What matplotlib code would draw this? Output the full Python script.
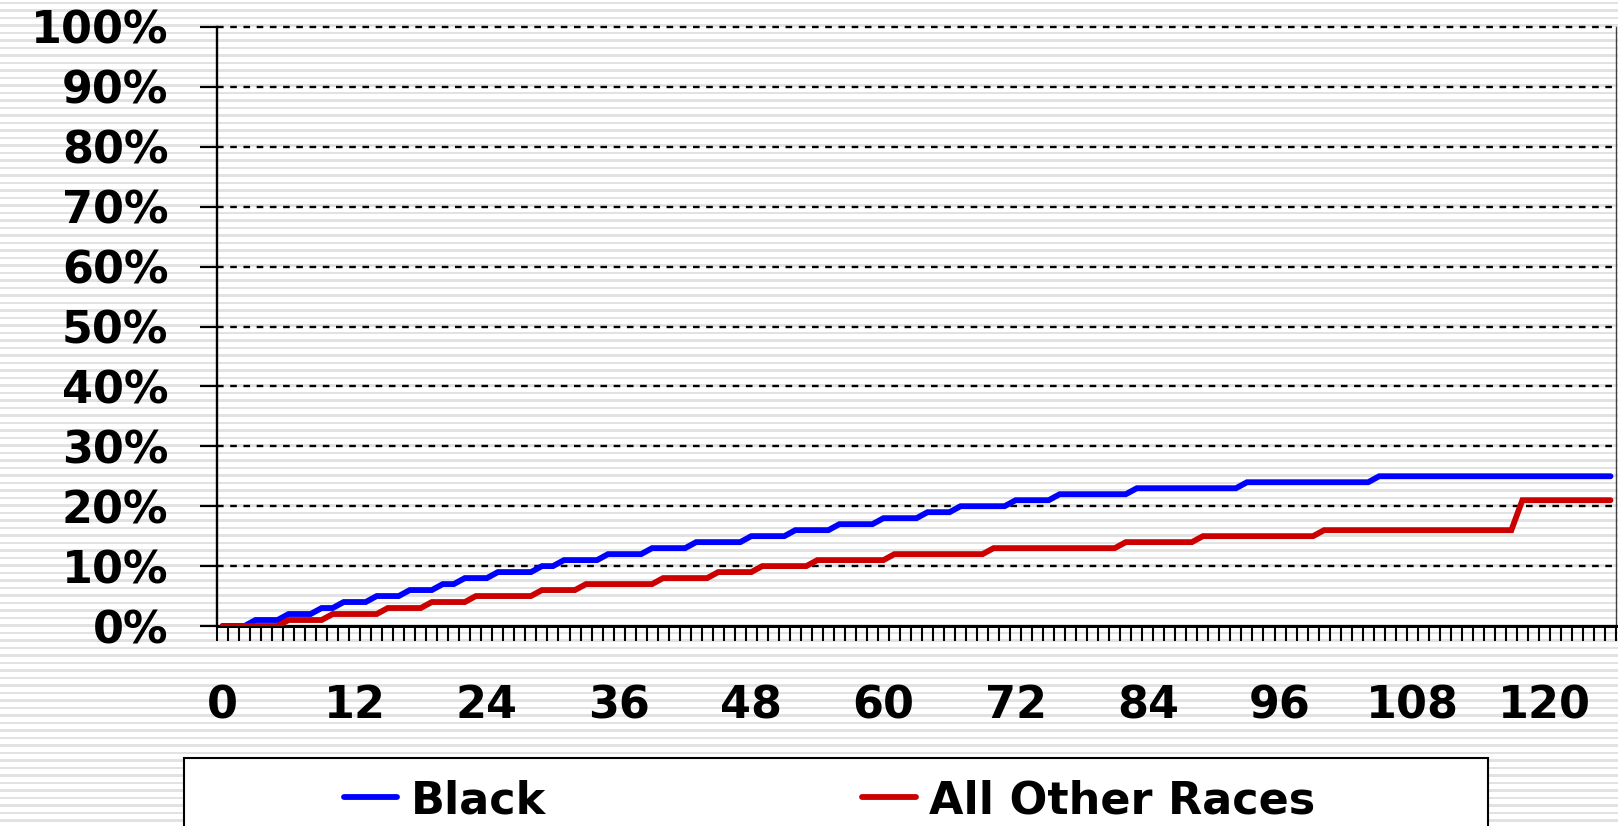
import numpy as np
import matplotlib
matplotlib.use("Agg")
import matplotlib.pyplot as plt
from matplotlib.patches import Rectangle
from matplotlib.lines import Line2D

# ---------------- data ----------------
months = list(range(127))  # months since start (category axis 0..126)

black_pct = [
    0, 0, 0, 1, 1, 1, 2, 2, 2, 3,
    3, 4, 4, 4, 5, 5, 5, 6, 6, 6,
    7, 7, 8, 8, 8, 9, 9, 9, 9, 10,
    10, 11, 11, 11, 11, 12, 12, 12, 12, 13,
    13, 13, 13, 14, 14, 14, 14, 14, 15, 15,
    15, 15, 16, 16, 16, 16, 17, 17, 17, 17,
    18, 18, 18, 18, 19, 19, 19, 20, 20, 20,
    20, 20, 21, 21, 21, 21, 22, 22, 22, 22,
    22, 22, 22, 23, 23, 23, 23, 23, 23, 23,
    23, 23, 23, 24, 24, 24, 24, 24, 24, 24,
    24, 24, 24, 24, 24, 25, 25, 25, 25, 25,
    25, 25, 25, 25, 25, 25, 25, 25, 25, 25,
    25, 25, 25, 25, 25, 25, 25,
]

other_pct = [
    0, 0, 0, 0, 0, 0, 1, 1, 1, 1,
    2, 2, 2, 2, 2, 3, 3, 3, 3, 4,
    4, 4, 4, 5, 5, 5, 5, 5, 5, 6,
    6, 6, 6, 7, 7, 7, 7, 7, 7, 7,
    8, 8, 8, 8, 8, 9, 9, 9, 9, 10,
    10, 10, 10, 10, 11, 11, 11, 11, 11, 11,
    11, 12, 12, 12, 12, 12, 12, 12, 12, 12,
    13, 13, 13, 13, 13, 13, 13, 13, 13, 13,
    13, 13, 14, 14, 14, 14, 14, 14, 14, 15,
    15, 15, 15, 15, 15, 15, 15, 15, 15, 15,
    16, 16, 16, 16, 16, 16, 16, 16, 16, 16,
    16, 16, 16, 16, 16, 16, 16, 16, 21, 21,
    21, 21, 21, 21, 21, 21, 21,
]

series_names = ["Black", "All Other Races"]
series_colors = ["#0000FF", "#CC0000"]

x_tick_values = [0, 12, 24, 36, 48, 60, 72, 84, 96, 108, 120]
x_tick_labels = ["0", "12", "24", "36", "48", "60", "72", "84", "96", "108", "120"]
y_tick_values = [0, 10, 20, 30, 40, 50, 60, 70, 80, 90, 100]
y_tick_labels = ["0%", "10%", "20%", "30%", "40%", "50%", "60%", "70%", "80%", "90%", "100%"]

# ---------------- figure ----------------
W, H = 1618, 826
plt.rcParams["font.family"] = ["DejaVu Sans"]
plt.rcParams["font.weight"] = "bold"
fig = plt.figure(figsize=(W / 100, H / 100), dpi=100)
fig.patch.set_facecolor("white")

# striped background
bg = fig.add_axes([0, 0, 1, 1], zorder=-10)
bg.set_xlim(0, W)
bg.set_ylim(H, 0)
bg.axis("off")
for y in np.arange(1.5, H, 7.5):
    bg.axhspan(y, y + 2.5, color="#E2E2E2", lw=0)

# main axes
ax = fig.add_axes([217 / W, 1 - 626 / H, 1399 / W, 599 / H])
ax.patch.set_alpha(0)

LW = 4.2
for vals, name, col in zip([black_pct, other_pct], series_names, series_colors):
    ax.plot(months, vals, color=col, lw=LW, solid_capstyle="round",
            solid_joinstyle="miter", zorder=3, label=name)

ax.set_xlim(-0.5, 126.5)
ax.set_ylim(0, 100)

# grid lines
for v in y_tick_values[1:]:
    ax.axhline(v, color="black", lw=1.7, linestyle=(0, (2.8, 2.8)), zorder=1,
               clip_on=False)

# spines
ax.spines["top"].set_visible(False)
ax.spines["left"].set_linewidth(1.7)
ax.spines["bottom"].set_linewidth(2.2)
ax.spines["right"].set_linewidth(1.0)
ax.spines["right"].set_color("#404040")

# ticks
ax.set_yticks(y_tick_values)
ax.set_yticklabels(y_tick_labels, fontsize=32, fontweight="bold")
ax.tick_params(axis="y", direction="out", length=12, width=1.6, pad=23)

ax.set_xticks(x_tick_values)
ax.set_xticklabels(x_tick_labels, fontsize=32, fontweight="bold")
ax.set_xticks(np.arange(-0.5, 127, 1.0), minor=True)
ax.tick_params(axis="x", which="major", length=0, pad=42)
ax.tick_params(axis="x", which="minor", direction="out", length=11, width=1.5)

# manual legend box
ly_top = 1 - 758 / H
rect = Rectangle((184 / W, -0.02), (1488 - 184) / W, ly_top + 0.02,
                 transform=fig.transFigure, facecolor="white",
                 edgecolor="black", lw=1.5, zorder=5)
fig.add_artist(rect)
line_y = 1 - 797 / H
text_base = 1 - 813 / H
for (x0, x1, xt), name, col in zip([(344, 397, 411), (862, 916, 929)],
                                   series_names, series_colors):
    fig.add_artist(Line2D([x0 / W, x1 / W], [line_y, line_y],
                          transform=fig.transFigure, color=col, lw=LW,
                          solid_capstyle="round", zorder=6))
    fig.text(xt / W, text_base, name, fontsize=32, fontweight="bold",
             ha="left", va="baseline", zorder=6)

fig.savefig("out.png", dpi=100, facecolor="white")
